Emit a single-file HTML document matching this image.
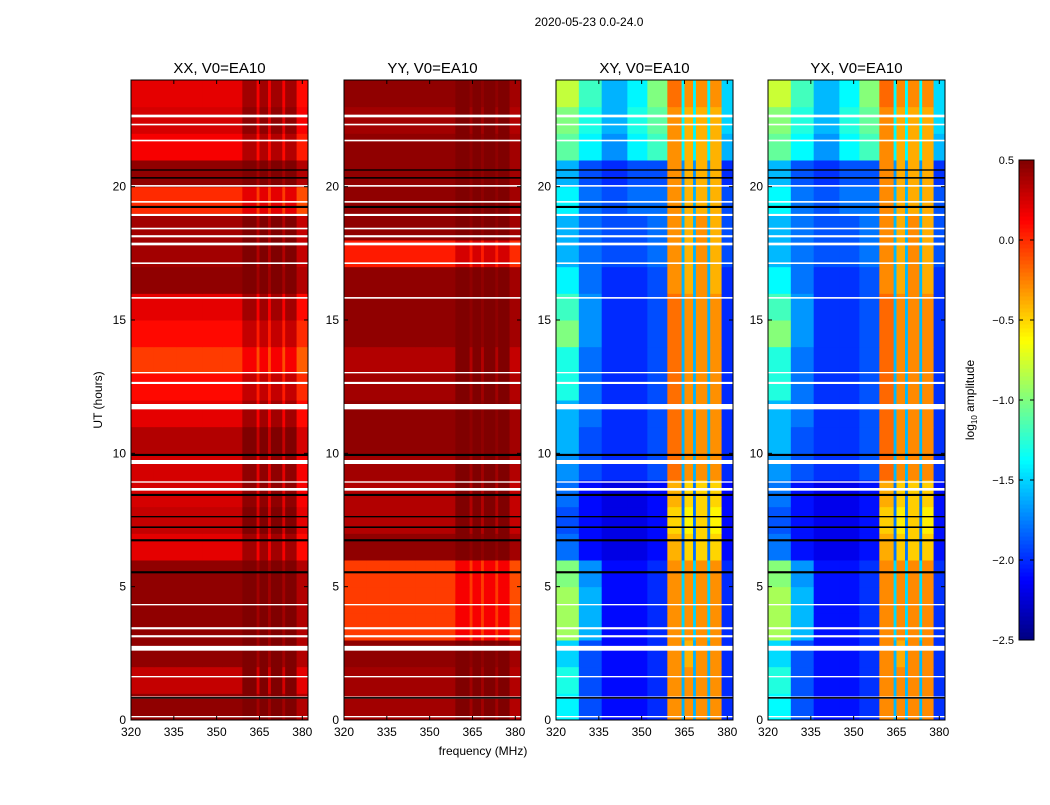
<!DOCTYPE html>
<html><head><meta charset="utf-8"><style>
body{margin:0;background:#fff;font-family:"Liberation Sans",sans-serif}
</style></head><body>
<svg id="fig" width="1050" height="800" xmlns="http://www.w3.org/2000/svg" style="font-family:'Liberation Sans',sans-serif">
<text x="589" y="26" font-size="12" text-anchor="middle">2020-05-23 0.0-24.0</text>
<text x="483" y="755" font-size="12" text-anchor="middle">frequency (MHz)</text>
<text transform="translate(102,400) rotate(-90)" font-size="12" text-anchor="middle">UT (hours)</text>
<text transform="translate(974,400) rotate(-90)" font-size="12" text-anchor="middle">log<tspan font-size="8" dy="3">10</tspan><tspan dy="-3"> amplitude</tspan></text>
</svg>
<script>
const freqEdges=[320,328,336,345,352,359,364,365,368,369,373,374,378,382];
const xTicks=[320,335,350,365,380];
const yTicks=[0,5,10,15,20];
const cbTicks=[0.5,0.0,-0.5,-1.0,-1.5,-2.0,-2.5];
const panelTitles=["XX, V0=EA10","YY, V0=EA10","XY, V0=EA10","YX, V0=EA10"];
// values per hour row (0..23), per frequency column
const xxRow=[0.45,0.30,0.45,0.45,0.45,0.45,0.20,0.30,0.25,0.25,0.35,0.20,0.10,-0.05,0.10,0.20,0.45,0.40,0.40,0.00,0.45,0.15,0.25,0.20];
const xxCol=[0,0,0,0,0,0.2,-0.05,0.2,-0.05,0.2,-0.05,0.2,-0.1];
const yyRow=[0.40,0.40,0.45,-0.05,-0.05,-0.05,0.45,0.35,0.35,0.40,0.45,0.45,0.40,0.35,0.45,0.45,0.45,0.05,0.45,0.45,0.45,0.45,0.40,0.45];
const yyCol=[0,0,0,0,0,0.2,0,0.2,0,0.2,0,0.2,-0.05];
const xyRows=[
[-1.4,-1.9,-2.1,-2.1,-2.0,-0.3,-1.6,-0.3,-1.6,-0.3,-1.6,-0.3,-2.0],
[-1.3,-1.9,-2.1,-2.1,-2.0,-0.3,-1.6,-0.3,-1.6,-0.3,-1.6,-0.3,-2.0],
[-1.5,-1.9,-2.1,-2.1,-2.0,-0.3,-1.6,-0.4,-1.6,-0.3,-1.6,-0.3,-2.0],
[-0.9,-1.6,-2.1,-2.1,-2.0,-0.3,-1.5,-0.3,-1.5,-0.3,-1.5,-0.3,-2.0],
[-0.9,-1.6,-2.1,-2.1,-2.0,-0.3,-1.5,-0.3,-1.5,-0.3,-1.5,-0.3,-2.0],
[-1.0,-1.7,-2.1,-2.1,-2.0,-0.3,-1.5,-0.3,-1.5,-0.3,-1.5,-0.3,-2.0],
[-1.8,-2.1,-2.2,-2.2,-2.1,-0.4,-1.8,-0.5,-1.8,-0.5,-1.8,-0.5,-2.1],
[-1.9,-2.1,-2.2,-2.2,-2.1,-0.5,-1.8,-0.6,-1.8,-0.5,-1.8,-0.6,-2.1],
[-1.8,-2.1,-2.2,-2.2,-2.1,-0.4,-1.8,-0.5,-1.8,-0.5,-1.8,-0.5,-2.1],
[-1.7,-1.9,-2.0,-2.0,-1.9,-0.2,-1.6,-0.3,-1.6,-0.3,-1.6,-0.3,-2.0],
[-1.6,-1.9,-2.0,-2.0,-1.9,-0.2,-1.6,-0.3,-1.6,-0.3,-1.6,-0.3,-2.0],
[-1.6,-1.8,-2.0,-2.0,-1.9,-0.2,-1.6,-0.3,-1.6,-0.3,-1.6,-0.3,-2.0],
[-1.3,-1.8,-2.0,-2.0,-1.9,-0.2,-1.6,-0.3,-1.6,-0.3,-1.6,-0.3,-2.0],
[-1.3,-1.8,-2.0,-2.0,-1.9,-0.2,-1.6,-0.3,-1.6,-0.3,-1.6,-0.3,-2.0],
[-1.0,-1.7,-2.0,-2.0,-1.9,-0.2,-1.6,-0.3,-1.6,-0.3,-1.6,-0.3,-2.0],
[-1.2,-1.7,-2.0,-2.0,-1.9,-0.2,-1.6,-0.3,-1.6,-0.3,-1.6,-0.3,-2.0],
[-1.4,-1.8,-2.0,-2.0,-1.9,-0.3,-1.6,-0.4,-1.6,-0.3,-1.6,-0.4,-2.0],
[-1.6,-1.8,-1.9,-1.9,-1.8,-0.3,-1.6,-0.4,-1.6,-0.3,-1.6,-0.4,-1.9],
[-1.6,-1.8,-1.9,-1.9,-1.8,-0.3,-1.6,-0.4,-1.6,-0.3,-1.6,-0.4,-1.9],
[-1.4,-1.8,-1.9,-1.8,-1.8,-0.3,-1.6,-0.4,-1.6,-0.4,-1.6,-0.4,-1.9],
[-1.6,-1.9,-2.0,-1.9,-1.9,-0.3,-1.7,-0.4,-1.7,-0.4,-1.7,-0.4,-2.0],
[-1.1,-1.4,-1.7,-1.4,-1.2,-0.3,-1.4,-0.4,-1.4,-0.4,-1.4,-0.4,-1.6],
[-1.0,-1.3,-1.6,-1.3,-1.1,-0.3,-1.4,-0.4,-1.4,-0.4,-1.4,-0.4,-1.5],
[-0.8,-1.2,-1.6,-1.4,-1.0,-0.2,-1.4,-0.3,-1.4,-0.3,-1.4,-0.3,-1.5]];
const whiteLines=[[0.1,0.05],[0.8,0.08],[1.6,0.05],[2.6,0.18],[3.1,0.08],[3.4,0.08],[4.3,0.05],[9.6,0.15],[8.9,0.05],[8.6,0.1],[11.65,0.2],[12.6,0.08],[13.0,0.05],[15.8,0.06],[17.1,0.06],[17.8,0.1],[18.1,0.08],[18.4,0.06],[18.9,0.08],[19.4,0.06],[20.0,0.06],[21.7,0.06],[22.3,0.06],[22.6,0.1]];
const blackLines=[[0.8,0.06],[5.5,0.08],[6.7,0.08],[7.2,0.06],[7.6,0.05],[8.4,0.08],[9.9,0.08],[19.2,0.08],[20.3,0.06],[20.6,0.05]];
const panelX=[131,344,556,768], pW=177, yTop=80, yBot=720, fMin=320, fMax=382;
const svg=document.getElementById('fig'), NS="http://www.w3.org/2000/svg";
function jet(v){let t=(v+2.5)/3;t=Math.max(0,Math.min(1,t));
 const f=(x)=>Math.max(0,Math.min(1,x));
 const r=f(1.5-Math.abs(4*t-3)),g=f(1.5-Math.abs(4*t-2)),b=f(1.5-Math.abs(4*t-1));
 return `rgb(${Math.round(r*255)},${Math.round(g*255)},${Math.round(b*255)})`;}
function yScale(h){return yBot-(h/24)*(yBot-yTop);}
function mk(tag,a){const e=document.createElementNS(NS,tag);for(const k in a)e.setAttribute(k,a[k]);svg.appendChild(e);return e;}
function val(p,r,c){if(p===0)return xxRow[r]+xxCol[c];if(p===1)return yyRow[r]+yyCol[c];return xyRows[r][c]+(p===3?0.02:0);}
for(let p=0;p<4;p++){
 const x0=panelX[p];const xs=f=>x0+(f-fMin)/(fMax-fMin)*pW;
 for(let r=0;r<24;r++)for(let c=0;c<freqEdges.length-1;c++){
  const e=mk('rect',{x:xs(freqEdges[c]),y:yScale(r+1),width:xs(freqEdges[c+1])-xs(freqEdges[c])+0.5,height:yScale(r)-yScale(r+1)+0.5,fill:jet(val(p,r,c))});
  
  
 }
 for(const [h,w] of whiteLines){const e=mk('rect',{x:x0,y:yScale(h+w),width:pW,height:Math.max(1,yScale(h)-yScale(h+w)),fill:'#fff'});
  }
 for(const [h,w] of blackLines){const e=mk('rect',{x:x0,y:yScale(h+w),width:pW,height:Math.max(1,yScale(h)-yScale(h+w)),fill:'#000'});
  }
 const fr=mk('rect',{x:x0,y:yTop,width:pW,height:yBot-yTop,fill:'none',stroke:'#000','stroke-width':1});
 
 const t=mk('text',{x:x0+pW/2,y:73,'font-size':15,'text-anchor':'middle'});t.textContent=panelTitles[p];
 
 for(const v of xTicks){const x=xs(v);mk('line',{x1:x,x2:x,y1:yBot,y2:yBot-4,stroke:'#000'});mk('line',{x1:x,x2:x,y1:yTop,y2:yTop+4,stroke:'#000'});
  const l=mk('text',{x:x,y:yBot+16,'font-size':12,'text-anchor':'middle'});l.textContent=v;
  }
 for(const v of yTicks){const y=yScale(v);mk('line',{x1:x0,x2:x0+4,y1:y,y2:y,stroke:'#000'});mk('line',{x1:x0+pW,x2:x0+pW-4,y1:y,y2:y,stroke:'#000'});
  const l=mk('text',{x:x0-5,y:y+4,'font-size':12,'text-anchor':'end'});l.textContent=v;
  }
}
// colorbar
const cbX=1019,cbW=15,cbTop=160,cbBot=640;
const cbS=v=>cbBot-(v+2.5)/3*(cbBot-cbTop);
for(let i=0;i<120;i++){const v=-2.5+i*3/120;
 const e=mk('rect',{x:cbX,y:cbS(v+3/120),width:cbW,height:(cbBot-cbTop)/120+0.5,fill:jet(v+1.5/120)});
 }
const cbf=mk('rect',{x:cbX,y:cbTop,width:cbW,height:cbBot-cbTop,fill:'none',stroke:'#000'});

for(const v of cbTicks){const y=cbS(v);mk('line',{x1:cbX+cbW-4,x2:cbX+cbW,y1:y,y2:y,stroke:'#000'});mk('line',{x1:cbX,x2:cbX+4,y1:y,y2:y,stroke:'#000'});
 const l=mk('text',{x:cbX-5,y:y+4,'font-size':11,'text-anchor':'end'});l.textContent=(v<0?'\u2212':'')+Math.abs(v).toFixed(1);
 }
</script>
</body></html>
